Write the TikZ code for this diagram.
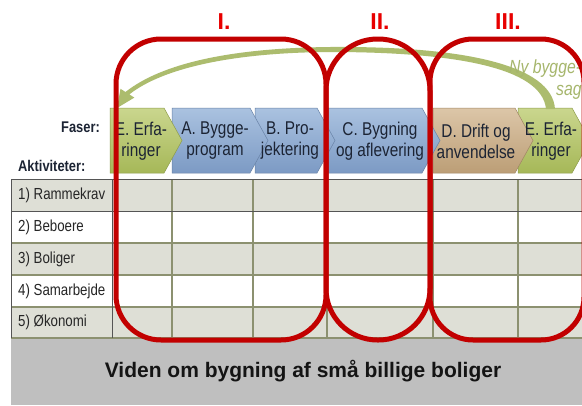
\documentclass[tikz,border=0pt]{standalone}
\usepackage{fontspec}
\setmainfont{Liberation Sans}
\newfontfamily\nf[FakeStretch=0.83]{Liberation Sans}
\definecolor{rowgray}{RGB}{222,223,214}
\definecolor{gridol}{RGB}{140,145,112}
\definecolor{griddk}{RGB}{85,85,85}
\definecolor{bandgray}{RGB}{191,191,191}
\definecolor{chevG}{RGB}{166,184,88}
\definecolor{chevGt}{RGB}{202,214,142}
\definecolor{chevB}{RGB}{124,154,196}
\definecolor{chevBt}{RGB}{170,194,224}
\definecolor{chevT}{RGB}{188,158,118}
\definecolor{chevTt}{RGB}{220,198,168}
\definecolor{redline}{RGB}{194,0,0}
\definecolor{redlab}{RGB}{232,0,0}
\definecolor{arrowG}{RGB}{172,188,110}
\definecolor{nyG}{RGB}{166,182,108}
\definecolor{navy}{RGB}{28,36,52}
\newcommand\mychev[4]{%
  \path[top color=#4, bottom color=#3, draw=#3!85!black, line width=0.5pt]
    (#1,108) -- ({#2-18},108) -- (#2,140.5) -- ({#2-18},173) -- (#1,173) -- cycle;}
\begin{document}
\begin{tikzpicture}[x=1pt,y=-1pt,
  chevtext/.style={font=\nf\fontsize{18.5}{21}\selectfont, text=navy, align=center, inner sep=0pt},
  rowlabel/.style={font=\nf\fontsize{16}{18}\selectfont, text=black!85, anchor=west, inner sep=0pt},
  headlabel/.style={font=\nf\bfseries\fontsize{15.5}{17}\selectfont, text=navy, inner sep=0pt},
  phase/.style={font=\bfseries\fontsize{23}{26}\selectfont, text=redlab, inner sep=0pt},
  grouprect/.style={draw=redline, line width=5pt},
  gridline/.style={draw=gridol, line width=1.2pt},
  darkline/.style={draw=griddk, line width=1pt},
  nytext/.style={font=\nf\itshape\fontsize{19}{21}\selectfont, text=nyG, inner sep=0pt},
]
\useasboundingbox (0,0) rectangle (582,405);
\clip (0,0) rectangle (582,405);
\fill[white] (0,0) rectangle (582,405);

% table rows
\fill[rowgray] (11,179) rectangle (590,211);
\fill[white]   (11,211) rectangle (590,243);
\fill[rowgray] (11,243) rectangle (590,275);
\fill[white]   (11,275) rectangle (590,307);
\fill[rowgray] (11,307) rectangle (590,338);
% grid
\foreach \yy in {243,275,307,338} \draw[gridline] (11,\yy) -- (590,\yy);
\foreach \xx in {172,253,327,433,518} \draw[gridline] (\xx,179) -- (\xx,338);
\draw[darkline] (11,211) -- (590,211);
\draw[darkline] (11,179) -- (590,179);
\draw[darkline] (11,179) -- (11,338);
\draw[darkline] (112,179) -- (112,338);

% knowledge band
\fill[bandgray] (11,338.6) rectangle (582,405);

% chevrons (drawn right to left so each tip lies on the next one)
\mychev{518}{590}{chevG}{chevGt}
\mychev{433}{533}{chevT}{chevTt}
\mychev{328}{440}{chevB}{chevBt}
\mychev{255}{335}{chevB}{chevBt}
\mychev{172}{268}{chevB}{chevBt}
\mychev{110}{182}{chevG}{chevGt}

% curved return arrow
\fill[arrowG] (555,109) .. controls (552,64) and (460,46) .. (330,47)
  .. controls (232,48) and (162,63) .. (125.5,92)
  -- (120.5,88.8) -- (117,108) -- (134.4,97.6) -- (129.3,94.4)
  .. controls (163,68) and (233,52.5) .. (330,52)
  .. controls (452,52) and (542,67) .. (546,109) -- cycle;

% chevron texts
\node[chevtext] (e1) at (141,141) {E. Erfa-\\ringer};
\node[chevtext] (a)  at (215,141) {A. Bygge-\\program};
\node[chevtext] (b)  at (290,141) {B. Pro-\\jektering};
\node[chevtext] (c)  at (380,141) {C. Bygning\\og aflevering};
\node[chevtext] (d)  at (476,141) {D. Drift og\\anvendelse};
\node[chevtext] (e2) at (551,141) {E. Erfa-\\ringer};

\node[nytext, anchor=base west] (ny1) at (509,73) {Ny bygge-};
\node[nytext, anchor=base west] (ny2) at (556,95) {sag};

% headings
\node[headlabel, anchor=east] (faser) at (100,127) {Faser:};
\node[headlabel, anchor=west] (akt) at (18,166) {Aktiviteter:};

% row labels
\node[rowlabel] (r1) at (18,195) {1) Rammekrav};
\node[rowlabel] (r2) at (18,227) {2) Beboere};
\node[rowlabel] (r3) at (18,259) {3) Boliger};
\node[rowlabel] (r4) at (18,291) {4) Samarbejde};
\node[rowlabel] (r5) at (18,322.5) {5) Økonomi};

\node[font=\bfseries\fontsize{21}{24}\selectfont, text=black!92, inner sep=0pt] (viden) at (303,371) {Viden om bygning af små billige boliger};

% red groups
\draw[grouprect, rounded corners=45pt] (116,39) rectangle (326,340);
\draw[grouprect, rounded corners=51.5pt] (326,39) rectangle (430,340);
\draw[grouprect, rounded corners=43pt] (430,39) rectangle (584,340);

\node[phase] (p1) at (224,22) {I.};
\node[phase] (p2) at (380,22) {II.};
\node[phase] (p3) at (508,22) {III.};
\end{tikzpicture}
\end{document}
